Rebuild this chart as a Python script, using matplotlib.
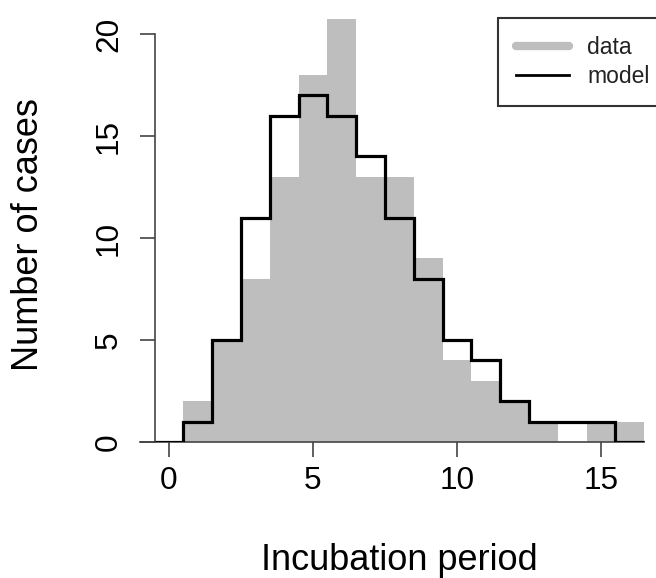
import numpy as np
import matplotlib
matplotlib.use("Agg")
import matplotlib.pyplot as plt
from matplotlib.lines import Line2D

plt.rcParams['font.family'] = ['Liberation Sans', 'DejaVu Sans']

# incubation period bins (days) and counts
days = np.arange(0, 17)
data_counts = [0, 2, 5, 8, 13, 18, 21, 13, 13, 9, 4, 3, 2, 1, 0, 1, 1]
model_counts = [0, 1, 5, 11, 16, 17, 16, 14, 11, 8, 5, 4, 2, 1, 1, 1, 0]
y_ticks = [0, 5, 10, 15, 20]
x_ticks = [0, 5, 10, 15]

W, H = 656, 578
fig = plt.figure(figsize=(W / 100, H / 100), dpi=100)
# axes box in pixels: left 140, right 656, top 19, bottom 442
ax = fig.add_axes([140 / W, (H - 442) / H, (656 - 140) / W, (442 - 19) / H])

grey = '#bebebe'
ax.bar(days, data_counts, width=1.0, color=grey, linewidth=0, zorder=1)
edges = np.arange(-0.5, len(days) + 0.5, 1.0)
ax.stairs(model_counts, edges, baseline=None, color='black', linewidth=2.3,
          zorder=3)

ax.set_xlim(-1.007, 16.91)
ax.set_ylim(0, 20.74)

# R-like axes: y axis at x=-0.5, baseline at y=0
for s in ['top', 'right']:
    ax.spines[s].set_visible(False)
ax.spines['left'].set_position(('data', -0.5))
ax.spines['left'].set_bounds(0, 20)
ax.spines['bottom'].set_bounds(-1.0, 16.5)
for s in ['left', 'bottom']:
    ax.spines[s].set_color('#444444')
    ax.spines[s].set_linewidth(1.2)
    ax.spines[s].set_zorder(2)

ax.set_yticks(y_ticks)
ax.set_xticks(x_ticks)
ax.tick_params(axis='both', direction='out', length=11, width=1.2,
               color='#444444', labelsize=22.7)
ax.tick_params(axis='y', pad=11)
ax.tick_params(axis='x', pad=6.5)
for lab in ax.get_yticklabels():
    lab.set_rotation(90)
    lab.set_va('center')

fig.text(399 / W, 1 - 560 / H, 'Incubation period', ha='center', va='center',
         fontsize=26)
fig.text(29 / W, 1 - 235 / H, 'Number of cases', ha='center', va='center',
         rotation=90, fontsize=26)

handles = [Line2D([], [], color=grey, linewidth=6, solid_capstyle='round'),
           Line2D([], [], color='black', linewidth=2)]
leg = ax.legend(handles, ['data', 'model'], loc='upper left',
                bbox_to_anchor=(498 / W, 1 - 18 / H),
                bbox_transform=fig.transFigure, fontsize=16.5,
                frameon=True, fancybox=False, framealpha=1,
                edgecolor='#333333', borderpad=0.8, handlelength=2.3,
                handletextpad=0.8, labelspacing=0.25, borderaxespad=0)
leg.get_frame().set_linewidth(1.5)
for t in leg.get_texts():
    t.set_color('#222222')

fig.savefig('out.png', dpi=100)
